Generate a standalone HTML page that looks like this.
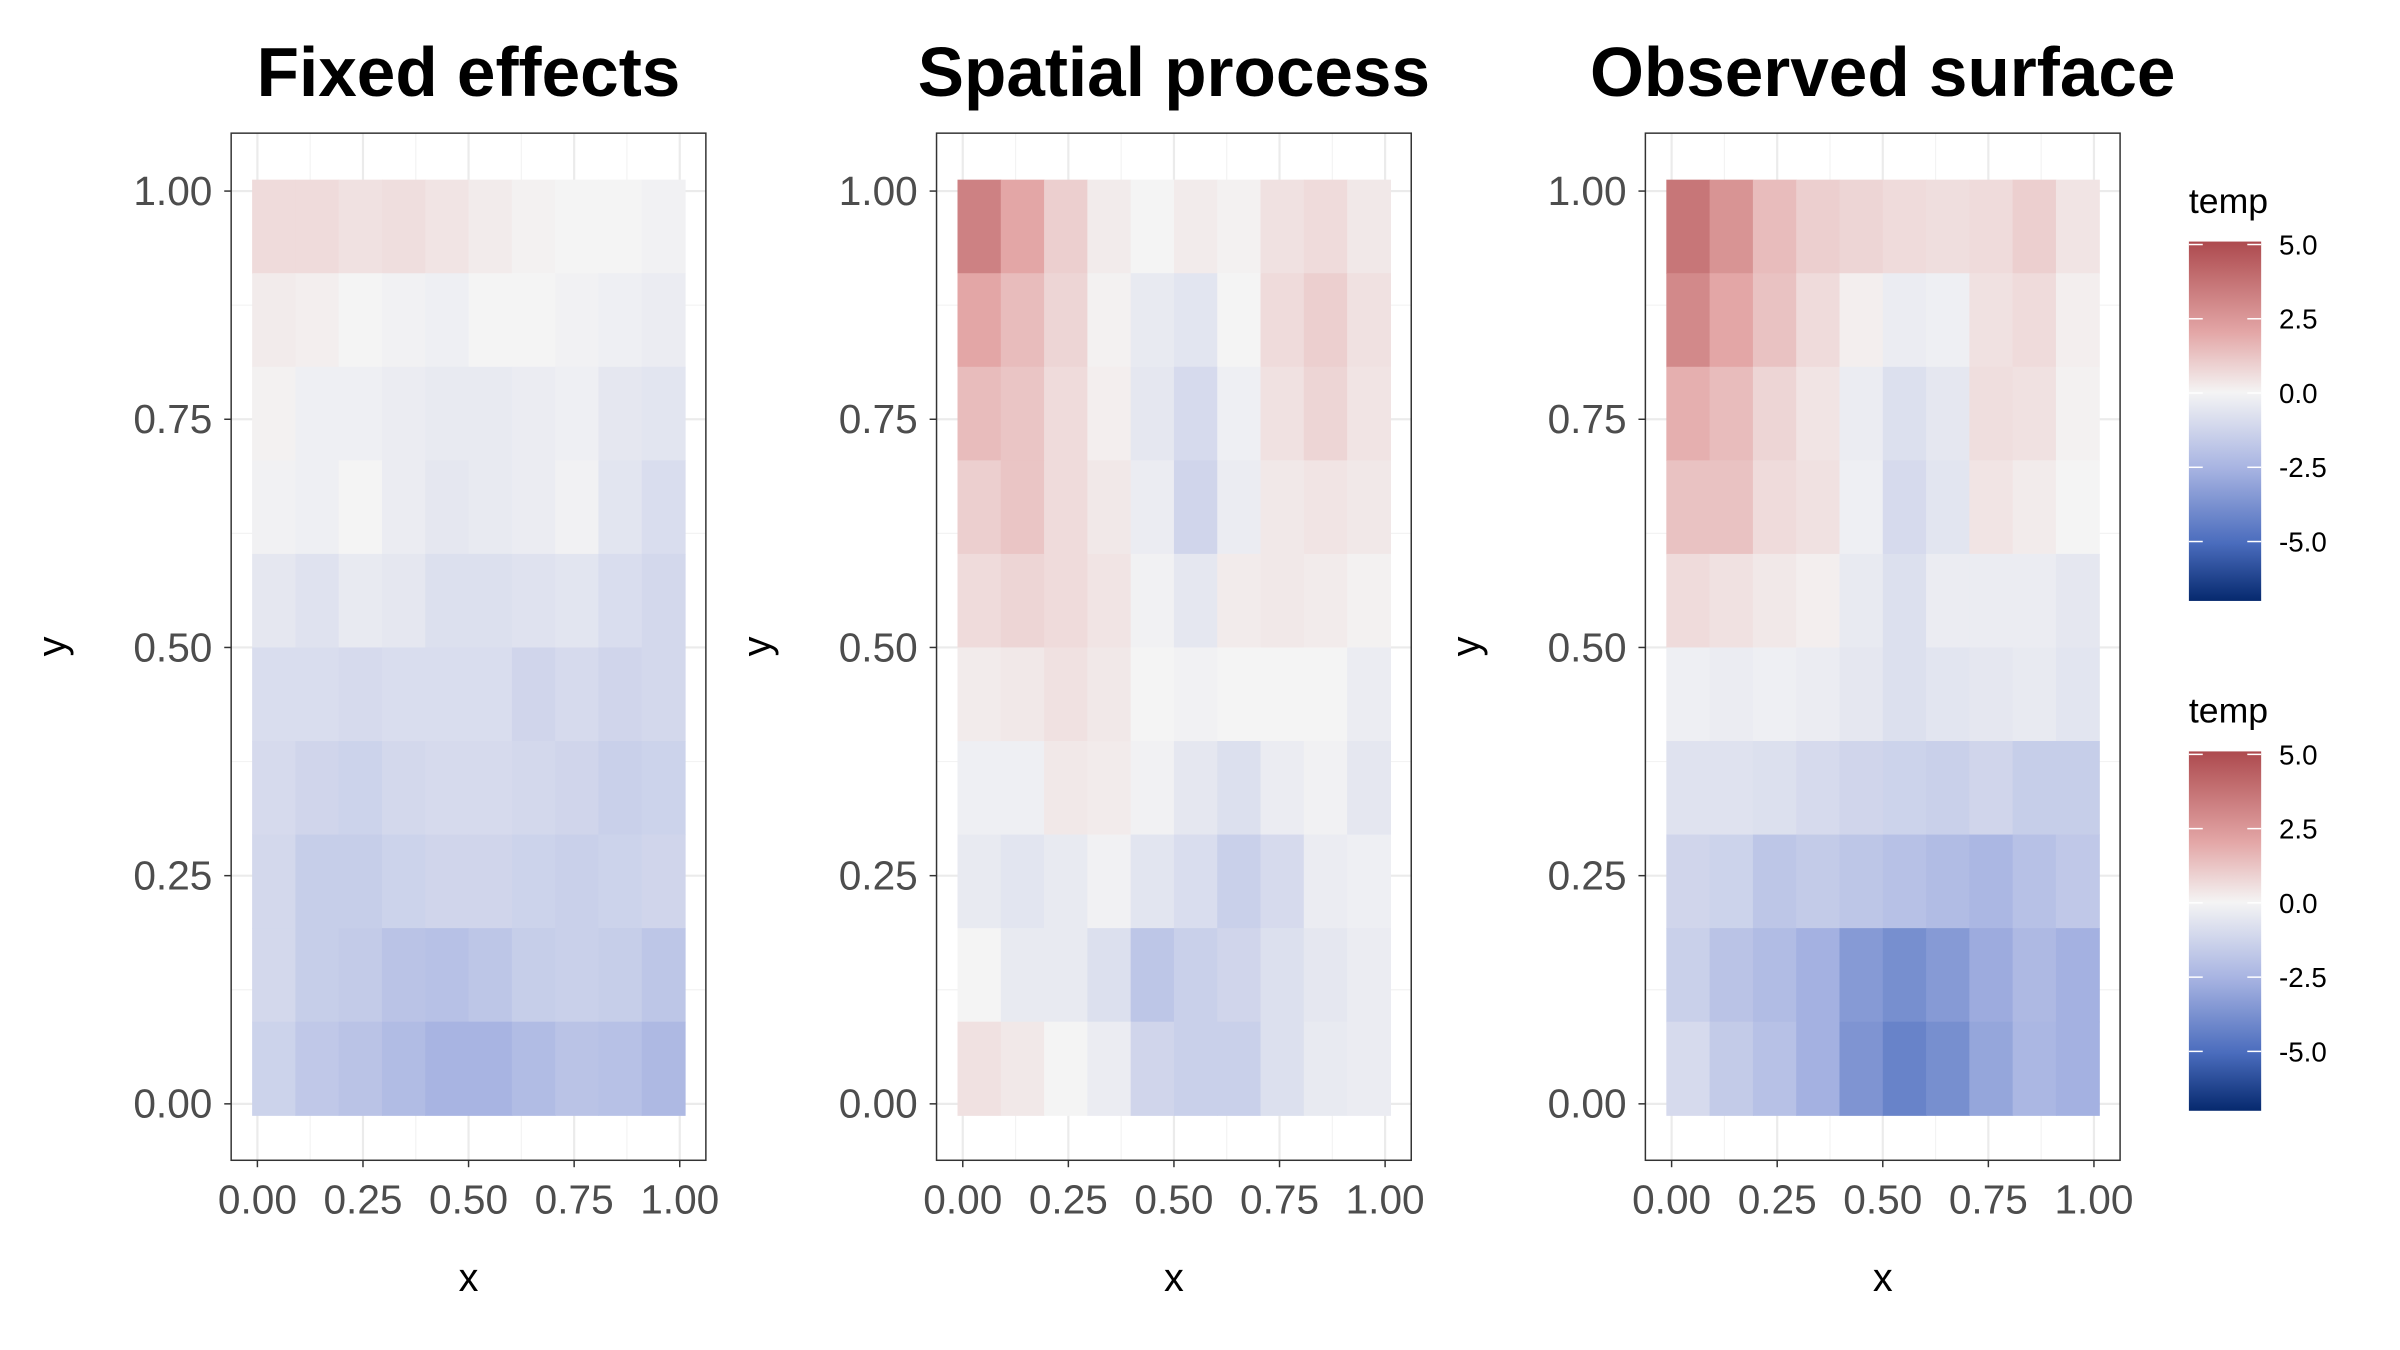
<!DOCTYPE html>
<html><head><meta charset="utf-8"><style>
html,body{margin:0;padding:0;background:#fff}
svg{display:block;font-family:"Liberation Sans",Arial,sans-serif}
</style></head><body>
<svg id="chart" width="2400" height="1350" viewBox="0 0 2400 1350">
<defs>
<linearGradient id="cbar" x1="0" y1="0" x2="0" y2="1">
<stop offset="0" stop-color="#ad4a4e"/>
<stop offset="0.252" stop-color="#e3a6a6"/>
<stop offset="0.42" stop-color="#f4f4f4"/>
<stop offset="0.63" stop-color="#a8b4e2"/>
<stop offset="0.84" stop-color="#4a6cbd"/>
<stop offset="1" stop-color="#06296e"/>
</linearGradient>
</defs>
<g id="root" transform="scale(0.99)"></g>
</svg>
<script>
const xTicks=[0,0.25,0.5,0.75,1];
const xTickLabels=["0.00","0.25","0.50","0.75","1.00"];
const yTicks=[0,0.25,0.5,0.75,1];
const yTickLabels=["0.00","0.25","0.50","0.75","1.00"];
const panelTitles=["Fixed effects","Spatial process","Observed surface"];
const legendTicks=[5,2.5,0,-2.5,-5];
const legendLabels=["5.0","2.5","0.0","-2.5","-5.0"];
// rows top (y=1) to bottom (y=0), 10 columns x 10 rows
const fixedValues=[
[0.8,0.8,0.6,0.7,0.5,0.3,0.1,0,0,-0.1],
[0.3,0.2,0,-0.1,-0.2,0,0,-0.1,-0.2,-0.3],
[0.1,-0.2,-0.2,-0.3,-0.4,-0.4,-0.3,-0.2,-0.5,-0.6],
[-0.1,-0.2,0,-0.3,-0.5,-0.4,-0.3,-0.1,-0.6,-0.9],
[-0.5,-0.7,-0.4,-0.5,-0.8,-0.8,-0.7,-0.6,-0.9,-1.1],
[-0.9,-0.9,-1.0,-0.9,-0.9,-0.9,-1.2,-1.0,-1.2,-1.1],
[-1.0,-1.2,-1.3,-1.1,-1.0,-1.0,-1.1,-1.2,-1.4,-1.3],
[-1.1,-1.5,-1.5,-1.3,-1.2,-1.2,-1.3,-1.4,-1.3,-1.2],
[-1.1,-1.5,-1.6,-1.9,-2.0,-1.8,-1.5,-1.4,-1.5,-1.8],
[-1.3,-1.7,-1.9,-2.2,-2.5,-2.5,-2.2,-1.9,-2.0,-2.3]];
const spatialValues=[
[3.5,2.5,1.2,0.3,0,0.3,0.1,0.6,0.8,0.4],
[2.5,1.8,1.0,0.1,-0.4,-0.6,0,0.8,1.2,0.6],
[1.8,1.5,0.8,0.2,-0.5,-1.0,-0.2,0.6,1.0,0.5],
[1.2,1.5,0.8,0.4,-0.3,-1.2,-0.3,0.4,0.5,0.4],
[0.8,1.0,0.8,0.5,-0.1,-0.5,0.3,0.4,0.3,0.1],
[0.3,0.4,0.6,0.4,0,-0.1,0,0,0,-0.3],
[-0.2,-0.2,0.4,0.3,-0.1,-0.5,-0.8,-0.3,-0.1,-0.5],
[-0.4,-0.6,-0.4,-0.1,-0.6,-0.9,-1.4,-1.0,-0.3,-0.2],
[0,-0.4,-0.4,-0.8,-1.8,-1.4,-1.2,-0.8,-0.5,-0.3],
[0.6,0.4,0,-0.3,-1.2,-1.4,-1.4,-0.8,-0.4,-0.3]];
const observedValues=[
[3.8,3.0,1.8,1.2,1.0,0.8,0.7,0.8,1.2,0.5],
[3.3,2.5,1.6,0.8,0.2,-0.3,-0.2,0.6,0.8,0.2],
[2.2,1.8,1.0,0.5,-0.3,-0.8,-0.5,0.7,0.6,0.1],
[1.6,1.6,0.8,0.6,-0.2,-1.0,-0.6,0.5,0.3,0.0],
[0.8,0.6,0.4,0.2,-0.4,-0.8,-0.3,-0.3,-0.3,-0.5],
[-0.2,-0.3,-0.2,-0.3,-0.5,-0.8,-0.6,-0.5,-0.4,-0.6],
[-0.7,-0.7,-0.8,-1.0,-1.2,-1.3,-1.4,-1.2,-1.5,-1.5],
[-1.2,-1.3,-1.8,-1.6,-1.8,-2.0,-2.2,-2.4,-2.0,-1.7],
[-1.4,-1.9,-2.2,-2.6,-3.4,-3.8,-3.4,-2.8,-2.3,-2.6],
[-1.0,-1.6,-2.0,-2.6,-3.6,-4.2,-3.8,-3.0,-2.4,-2.6]];

const NS="http://www.w3.org/2000/svg";
const root=document.getElementById('root');
function mk(tag,attrs,parent){const e=document.createElementNS(NS,tag);for(const k in attrs)e.setAttribute(k,attrs[k]);(parent||root).appendChild(e);return e;}
const stops=[[5,[173,74,78]],[2.5,[227,166,166]],[0,[244,244,244]],[-2.5,[168,180,226]],[-5,[74,108,189]],[-7,[6,41,110]]];
function color(v){
  if(v>=stops[0][0])return 'rgb('+stops[0][1].join(',')+')';
  for(let i=0;i<stops.length-1;i++){const a=stops[i],b=stops[i+1];
    if(v<=a[0]&&v>=b[0]){const t=(a[0]-v)/(a[0]-b[0]);const c=a[1].map((x,j)=>Math.round(x+(b[1][j]-x)*t));return 'rgb('+c.join(',')+')';}}
  return 'rgb('+stops[stops.length-1][1].join(',')+')';
}
const panelBoxes=[233.5,946,1662];
const panelData=[fixedValues,spatialValues,observedValues];
const boxTop=134.5,boxBottom=1172,boxW=479.5;
function yScale(v){return 1115-v*922;}
panelBoxes.forEach((bx,p)=>{
  const g=mk('g',{});
  
  
  const xScale=v=>bx+26.5+v*426.6;
  const bg=mk('rect',{x:bx,y:boxTop,width:boxW,height:boxBottom-boxTop,fill:'#fff'},g);
  
  
  for(let i=0;i<xTicks.length;i++){
    const gl=mk('line',{x1:xScale(xTicks[i]),x2:xScale(xTicks[i]),y1:boxTop,y2:boxBottom,stroke:'#ebebeb','stroke-width':2.2},g);
    
    
    if(i<xTicks.length-1){const m=(xTicks[i]+xTicks[i+1])/2;
      const ml=mk('line',{x1:xScale(m),x2:xScale(m),y1:boxTop,y2:boxBottom,stroke:'#f3f3f3','stroke-width':1.2},g);
      
      }
  }
  for(let i=0;i<yTicks.length;i++){
    const gl=mk('line',{x1:bx,x2:bx+boxW,y1:yScale(yTicks[i]),y2:yScale(yTicks[i]),stroke:'#ebebeb','stroke-width':2.2},g);
    
    
    if(i<yTicks.length-1){const m=(yTicks[i]+yTicks[i+1])/2;
      const ml=mk('line',{x1:bx,x2:bx+boxW,y1:yScale(m),y2:yScale(m),stroke:'#f3f3f3','stroke-width':1.2},g);
      
      }
  }
  const vals=panelData[p];const nr=vals.length,nc=vals[0].length;
  const x0=xScale(-1/80),x1=xScale(1+1/80),yt=yScale(1+1/80),yb=yScale(-1/80);
  const cw=(x1-x0)/nc,ch=(yb-yt)/nr;
  for(let r=0;r<nr;r++)for(let c=0;c<nc;c++){
    const cell=mk('rect',{x:(x0+c*cw).toFixed(2),y:(yt+r*ch).toFixed(2),width:(cw+0.6).toFixed(2),height:(ch+0.6).toFixed(2),fill:color(vals[r][c])},g);
    
    
  }
  const border=mk('rect',{x:bx,y:boxTop,width:boxW,height:boxBottom-boxTop,fill:'none',stroke:'#333','stroke-width':1.5},g);
  
  
  xTicks.forEach((t,i)=>{
    const tk=mk('line',{x1:xScale(t),x2:xScale(t),y1:boxBottom,y2:boxBottom+7,stroke:'#333','stroke-width':1.5},g);
    
    
    const tl=mk('text',{x:xScale(t),y:1226,'font-size':41,fill:'#4d4d4d','text-anchor':'middle'},g);
    tl.textContent=xTickLabels[i];
    
    
  });
  yTicks.forEach((t,i)=>{
    const tk=mk('line',{x1:bx-7,x2:bx,y1:yScale(t),y2:yScale(t),stroke:'#333','stroke-width':1.5},g);
    
    
    const tl=mk('text',{x:bx-19,y:yScale(t)+14,'font-size':41,fill:'#4d4d4d','text-anchor':'end'},g);
    tl.textContent=yTickLabels[i];
    
    
  });
  const xt=mk('text',{x:bx+boxW/2,y:1304,'font-size':40,fill:'#000','text-anchor':'middle'},g);
  xt.textContent='x';
  
  
  const yx=bx-168;
  const yt2=mk('text',{x:yx,y:653,'font-size':40,fill:'#000','text-anchor':'middle',transform:'rotate(-90 '+yx+' 653)'},g);
  yt2.textContent='y';
  
  
  const ti=mk('text',{x:bx+boxW/2,y:97,'font-size':70,'font-weight':'bold',fill:'#000','text-anchor':'middle'},g);
  ti.textContent=panelTitles[p];
  
  
});
[397,912].forEach((zeroY,li)=>{
  const g=mk('g',{});
  
  
  const unit=30;
  const lt=mk('text',{x:2211,y:zeroY-182,'font-size':36,fill:'#000'},g);
  lt.textContent='temp';
  
  
  const bar=mk('rect',{x:2211,y:zeroY-5.1*unit,width:73,height:12.1*unit,fill:'url(#cbar)'},g);
  
  
  legendTicks.forEach((t,i)=>{
    const y=zeroY-t*unit;
    const a=mk('line',{x1:2211,x2:2225,y1:y,y2:y,stroke:'#fff','stroke-width':1.5},g);
    
    
    const b=mk('line',{x1:2270,x2:2284,y1:y,y2:y,stroke:'#fff','stroke-width':1.5},g);
    
    
    const tx=mk('text',{x:2302,y:y+10,'font-size':28,fill:'#000'},g);
    tx.textContent=legendLabels[i];
    
    
  });
});
</script>
</body></html>
